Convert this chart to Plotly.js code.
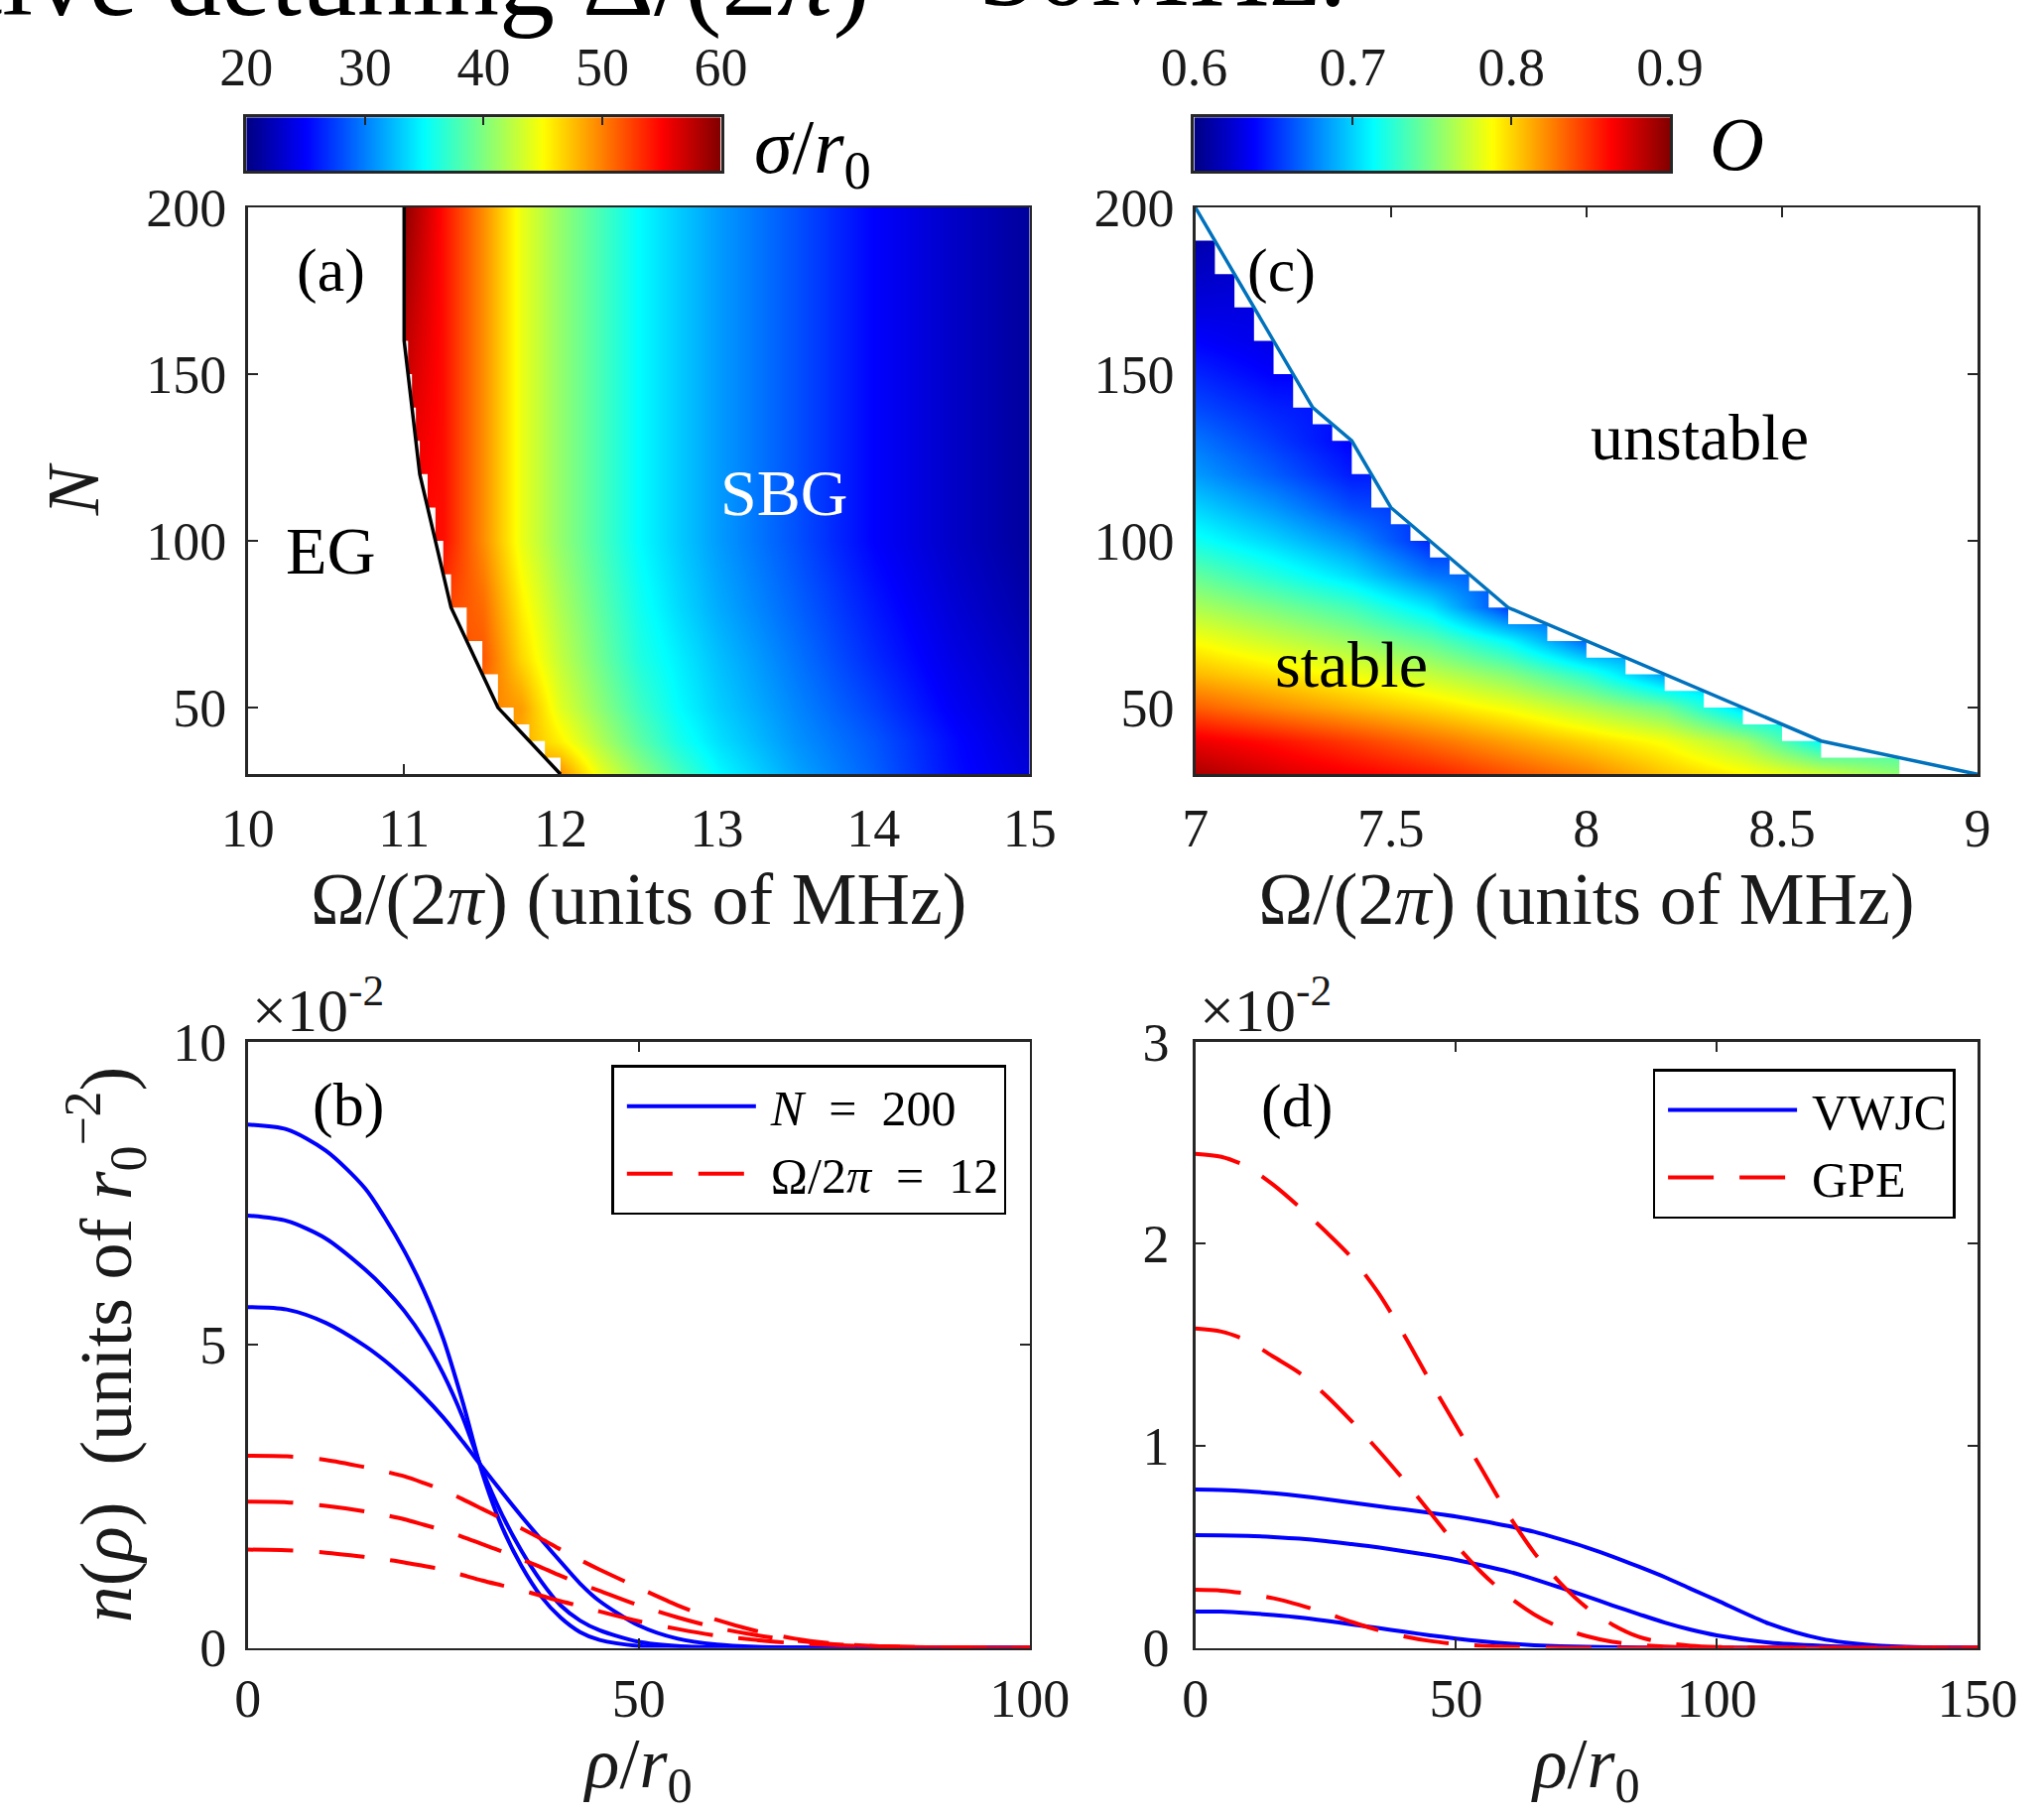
<!DOCTYPE html>
<html>
<head>
<meta charset="utf-8">
<script src="https://cdn.plot.ly/plotly-3.0.1.min.js"></script>
<style>html,body{margin:0;padding:0;background:#fff}#chart{width:2060px;height:1827px}</style>
</head>
<body>
<div id="chart"></div>
<script>
// ================= DATA =================
// (a) sigma/r0 over (Omega/2pi, N); null = EG region (no self-bound gas)
const aOmega = [11.0, 11.25, 11.5, 11.75, 12.0, 12.25, 12.5, 12.75, 13.0, 13.5, 14.0, 14.5, 15.0];
const aN = [30, 40, 50, 65, 80, 100, 130, 200];
const aSigma = [
  [null, null, null, null, 49.5, 44.2, 40.8, 37.8, 35.0, 31.5, 28.8, 25.6, 23.5],
  [null, null, null, null, 45.5, 41.9, 38.7, 35.9, 33.9, 30.8, 28.4, 25.4, 23.0],
  [null, null, null, 48.8, 43.8, 40.5, 37.5, 35.0, 33.2, 30.3, 27.6, 24.7, 22.6],
  [null, null, 51.6, 46.5, 42.6, 39.3, 36.3, 34.4, 32.6, 29.6, 26.6, 24.0, 22.1],
  [null, null, 50.8, 45.5, 41.8, 38.6, 35.7, 33.6, 31.8, 28.9, 25.9, 23.4, 21.5],
  [null, 54.5, 49.5, 44.2, 40.8, 37.8, 35.0, 33.0, 31.2, 28.2, 25.0, 22.8, 21.0],
  [null, 54.5, 49.5, 44.2, 40.8, 37.8, 35.0, 33.0, 31.2, 28.2, 25.0, 22.8, 21.0],
  [59.5, 54.5, 49.5, 44.2, 40.8, 37.8, 35.0, 33.0, 31.2, 28.2, 25.0, 22.8, 21.0]
];
// (a) computed grid edge: rows between aStepN[i] and aStepN[i+1] start at aStepOmega[i]
const aStepN = [200, 160, 150, 140, 130, 120, 110, 100, 90, 80, 70, 60, 50, 45, 40, 35, 30];
const aStepOmega = [11.0, 11.025, 11.05, 11.075, 11.1, 11.15, 11.2, 11.25, 11.3, 11.4, 11.5, 11.6, 11.7, 11.8, 11.9, 12.0];
// (a) EG / SBG boundary
const aLineOmega = [11.0, 11.0, 11.1, 11.3, 11.6, 12.0];
const aLineN = [200, 160, 120, 80, 50, 30];

// (c) overlap O over (Omega/2pi, N); null = unstable
const cOmega = [7.0, 7.2, 7.4, 7.6, 7.8, 8.0, 8.2, 8.4, 8.6, 8.8];
const cN = [30, 40, 50, 60, 70, 80, 90, 100, 110, 120, 130, 140, 150, 160, 170, 180, 190];
const cOverlap = [
  [0.888, 0.875, 0.865, 0.855, 0.840, 0.825, 0.805, 0.790, 0.775, 0.755],
  [0.868, 0.858, 0.845, 0.830, 0.815, 0.800, 0.785, 0.760, 0.712, null],
  [0.835, 0.822, 0.810, 0.798, 0.784, 0.765, 0.745, 0.700, null, null],
  [0.808, 0.797, 0.784, 0.770, 0.752, 0.725, 0.685, null, null, null],
  [0.786, 0.772, 0.758, 0.740, 0.712, 0.668, null, null, null, null],
  [0.763, 0.748, 0.732, 0.705, 0.655, null, null, null, null, null],
  [0.741, 0.722, 0.702, 0.672, null, null, null, null, null, null],
  [0.717, 0.700, 0.680, 0.648, null, null, null, null, null, null],
  [0.700, 0.682, 0.660, null, null, null, null, null, null, null],
  [0.683, 0.665, 0.645, null, null, null, null, null, null, null],
  [0.672, 0.655, 0.637, null, null, null, null, null, null, null],
  [0.659, 0.647, null, null, null, null, null, null, null, null],
  [0.648, 0.637, null, null, null, null, null, null, null, null],
  [0.6375, 0.630, null, null, null, null, null, null, null, null],
  [0.628, null, null, null, null, null, null, null, null, null],
  [0.620, null, null, null, null, null, null, null, null, null],
  [0.613, null, null, null, null, null, null, null, null, null]
];
// (c) computed grid edge: rows between cStepN[i] and cStepN[i+1] end at cStepOmega[i]
const cStepN = [200, 190, 180, 170, 160, 150, 140, 135, 130, 120, 110, 105, 100, 95, 90, 85, 80, 75, 70, 65, 60, 55, 50, 45, 40, 35, 30];
const cStepOmega = [7.0, 7.05, 7.10, 7.15, 7.20, 7.25, 7.30, 7.35, 7.40, 7.45, 7.50, 7.55, 7.60, 7.65, 7.70, 7.75, 7.80, 7.90, 8.00, 8.10, 8.20, 8.30, 8.40, 8.50, 8.60, 8.80];
// (c) stability boundary
const cLineOmega = [7.0, 7.3, 7.4, 7.5, 7.8, 8.6, 9.0];
const cLineN = [200, 140, 130, 110, 80, 40, 30];

// colour-bar limits
const cbSigma = [20, 60];
const cbOverlap = [0.6, 0.9];

// (b) density profiles, units of 1e-2 r0^-2
const bRho = [0, 5, 10, 15, 17.5, 20, 22.5, 25, 27.5, 30, 32.5, 35, 37.5, 40, 42.5, 45, 50, 55, 60, 65, 70, 75, 80, 85, 90, 95, 100];
const bN200a = [8.63, 8.55, 8.20, 7.58, 7.10, 6.55, 5.90, 5.10, 4.05, 2.88, 2.00, 1.35, 0.85, 0.50, 0.26, 0.13, 0.03, 0.006, 0, 0, 0, 0, 0, 0, 0, 0, 0];
const bN200b = [7.13, 7.04, 6.75, 6.24, 5.93, 5.56, 5.10, 4.52, 3.80, 2.93, 2.20, 1.60, 1.10, 0.70, 0.45, 0.29, 0.10, 0.03, 0.008, 0.002, 0, 0, 0, 0, 0, 0, 0];
const bN200c = [5.62, 5.58, 5.36, 4.98, 4.74, 4.46, 4.15, 3.80, 3.40, 2.98, 2.57, 2.17, 1.79, 1.42, 1.06, 0.77, 0.37, 0.15, 0.055, 0.017, 0.005, 0.001, 0, 0, 0, 0, 0];
const bW12a = [3.17, 3.16, 3.10, 2.98, 2.91, 2.83, 2.72, 2.60, 2.45, 2.29, 2.13, 1.97, 1.80, 1.62, 1.45, 1.29, 0.99, 0.70, 0.46, 0.28, 0.15, 0.07, 0.03, 0.014, 0.006, 0.002, 0];
const bW12b = [2.41, 2.40, 2.34, 2.25, 2.19, 2.12, 2.03, 1.94, 1.83, 1.71, 1.59, 1.46, 1.33, 1.19, 1.06, 0.94, 0.70, 0.50, 0.33, 0.21, 0.12, 0.06, 0.03, 0.015, 0.007, 0.003, 0];
const bW12c = [1.62, 1.61, 1.57, 1.50, 1.46, 1.41, 1.35, 1.29, 1.20, 1.11, 1.03, 0.95, 0.86, 0.77, 0.69, 0.60, 0.44, 0.31, 0.20, 0.13, 0.075, 0.045, 0.025, 0.013, 0.007, 0.003, 0];

// (d) density profiles, units of 1e-2 r0^-2
const dRho = [0, 5, 10, 15, 20, 25, 30, 35, 40, 45, 50, 55, 60, 65, 70, 75, 80, 85, 90, 95, 100, 110, 120, 130, 140, 150];
const dVWJC1 = [0.783, 0.781, 0.775, 0.765, 0.752, 0.736, 0.718, 0.701, 0.685, 0.668, 0.650, 0.628, 0.603, 0.574, 0.537, 0.497, 0.452, 0.402, 0.350, 0.292, 0.235, 0.120, 0.045, 0.013, 0.003, 0];
const dVWJC2 = [0.558, 0.557, 0.554, 0.548, 0.540, 0.528, 0.513, 0.497, 0.478, 0.458, 0.435, 0.408, 0.378, 0.340, 0.298, 0.255, 0.210, 0.167, 0.125, 0.090, 0.062, 0.026, 0.010, 0.003, 0.001, 0];
const dVWJC3 = [0.180, 0.179, 0.172, 0.162, 0.150, 0.134, 0.116, 0.098, 0.080, 0.062, 0.046, 0.032, 0.021, 0.013, 0.008, 0.005, 0.003, 0.002, 0.001, 0, 0, 0, 0, 0, 0, 0];
const dGPE1 = [2.445, 2.43, 2.38, 2.29, 2.18, 2.06, 1.93, 1.76, 1.55, 1.32, 1.10, 0.88, 0.66, 0.47, 0.32, 0.20, 0.115, 0.055, 0.025, 0.010, 0.004, 0.001, 0, 0, 0, 0];
const dGPE2 = [1.58, 1.565, 1.52, 1.44, 1.36, 1.25, 1.12, 0.98, 0.83, 0.67, 0.51, 0.37, 0.255, 0.165, 0.10, 0.058, 0.03, 0.015, 0.007, 0.003, 0.002, 0, 0, 0, 0, 0];
const dGPE3 = [0.287, 0.283, 0.268, 0.245, 0.212, 0.172, 0.128, 0.088, 0.057, 0.034, 0.019, 0.010, 0.005, 0.002, 0.001, 0, 0, 0, 0, 0, 0, 0, 0, 0, 0, 0];

// tick labels
const aTicksX = [10, 11, 12, 13, 14, 15];
const aTicksY = [50, 100, 150, 200];
const cTicksX = [7, 7.5, 8, 8.5, 9];
const cTickText = ['7', '7.5', '8', '8.5', '9'];
const bTicksX = [0, 50, 100];
const bTicksY = [0, 5, 10];
const dTicksX = [0, 50, 100, 150];
const dTicksY = [0, 1, 2, 3];
const cbSigmaTicks = [20, 30, 40, 50, 60];
const cbOverlapTicks = [0.6, 0.7, 0.8, 0.9];

// ================= STYLE =================
const FONT = 'Liberation Serif, Times New Roman, serif';
const AXC = '#262626';
const jet = [[0, 'rgb(0,0,131)'], [0.125, 'rgb(0,0,255)'], [0.375, 'rgb(0,255,255)'],
             [0.625, 'rgb(255,255,0)'], [0.875, 'rgb(255,0,0)'], [1, 'rgb(128,0,0)']];
const BLUE = '#0000ff', RED = '#ff0000';
const DASH = '46px,26px';
const LW = 4;

// staircase polygons (mask of the non-computed region)
function leftMask(stepN, stepX, xMin) {
  const xs = [xMin], ys = [stepN[0]];
  for (let i = 0; i < stepX.length; i++) {
    xs.push(stepX[i], stepX[i]); ys.push(stepN[i], stepN[i + 1]);
  }
  xs.push(xMin); ys.push(stepN[stepN.length - 1]);
  return {xs, ys};
}
function rightMask(stepN, stepX, xMax) {
  const xs = [], ys = [];
  for (let i = 0; i < stepX.length; i++) {
    xs.push(stepX[i], stepX[i]); ys.push(stepN[i], stepN[i + 1]);
  }
  xs.push(xMax, xMax); ys.push(stepN[stepN.length - 1], stepN[0]);
  return {xs, ys};
}
const mA = leftMask(aStepN, aStepOmega, 10);
const mC = rightMask(cStepN, cStepOmega, 9);

const traces = [];
// ---- panel (a)
traces.push({type: 'heatmap', x: aOmega, y: aN, z: aSigma, colorscale: jet, zmin: cbSigma[0], zmax: cbSigma[1],
  zsmooth: 'best', connectgaps: true, showscale: false, xaxis: 'x', yaxis: 'y', hoverinfo: 'skip'});
traces.push({type: 'scatter', mode: 'lines', x: mA.xs, y: mA.ys, fill: 'toself', fillcolor: '#ffffff',
  line: {width: 0, color: 'rgba(0,0,0,0)'}, xaxis: 'x', yaxis: 'y', showlegend: false, hoverinfo: 'skip'});
traces.push({type: 'scatter', mode: 'lines', x: aLineOmega, y: aLineN, line: {color: '#000000', width: 3.5},
  xaxis: 'x', yaxis: 'y', showlegend: false, hoverinfo: 'skip'});
traces.push({type: 'scatter', mode: 'lines', x: [], y: [], xaxis: 'x8', yaxis: 'y', showlegend: false, hoverinfo: 'skip'});
// ---- panel (c)
traces.push({type: 'heatmap', x: cOmega, y: cN, z: cOverlap, colorscale: jet, zmin: cbOverlap[0], zmax: cbOverlap[1],
  zsmooth: 'best', connectgaps: true, showscale: false, xaxis: 'x3', yaxis: 'y3', hoverinfo: 'skip'});
traces.push({type: 'scatter', mode: 'lines', x: mC.xs, y: mC.ys, fill: 'toself', fillcolor: '#ffffff',
  line: {width: 0, color: 'rgba(0,0,0,0)'}, xaxis: 'x3', yaxis: 'y3', showlegend: false, hoverinfo: 'skip'});
traces.push({type: 'scatter', mode: 'lines', x: cLineOmega, y: cLineN, line: {color: '#0072bd', width: 3.5},
  xaxis: 'x3', yaxis: 'y3', showlegend: false, hoverinfo: 'skip'});
traces.push({type: 'scatter', mode: 'lines', x: [], y: [], xaxis: 'x7', yaxis: 'y7', showlegend: false, hoverinfo: 'skip'});
// ---- colour bars
traces.push({type: 'heatmap', x: cbSigma, y: [0, 1], z: [cbSigma, cbSigma], colorscale: jet, zmin: cbSigma[0], zmax: cbSigma[1],
  zsmooth: 'best', showscale: false, xaxis: 'x5', yaxis: 'y5', hoverinfo: 'skip'});
traces.push({type: 'heatmap', x: cbOverlap, y: [0, 1], z: [cbOverlap, cbOverlap], colorscale: jet, zmin: cbOverlap[0], zmax: cbOverlap[1],
  zsmooth: 'best', showscale: false, xaxis: 'x6', yaxis: 'y6', hoverinfo: 'skip'});
// ---- panel (b)
[bN200a, bN200b, bN200c].forEach((v, i) => traces.push({type: 'scatter', mode: 'lines', x: bRho, y: v,
  line: {color: BLUE, width: LW, shape: 'spline', smoothing: 0.8}, name: '\u2009<i>N</i>\u2002=\u2002200', showlegend: i === 0,
  legend: 'legend', xaxis: 'x2', yaxis: 'y2', hoverinfo: 'skip'}));
[bW12a, bW12b, bW12c].forEach((v, i) => traces.push({type: 'scatter', mode: 'lines', x: bRho, y: v,
  line: {color: RED, width: LW, dash: DASH, shape: 'spline', smoothing: 0.8}, name: '\u2009Ω/2<i>π</i>\u2002=\u200212', showlegend: i === 0,
  legend: 'legend', xaxis: 'x2', yaxis: 'y2', hoverinfo: 'skip'}));
// ---- panel (d)
[dVWJC1, dVWJC2, dVWJC3].forEach((v, i) => traces.push({type: 'scatter', mode: 'lines', x: dRho, y: v,
  line: {color: BLUE, width: LW, shape: 'spline', smoothing: 0.8}, name: '\u2009VWJC', showlegend: i === 0,
  legend: 'legend2', xaxis: 'x4', yaxis: 'y4', hoverinfo: 'skip'}));
[dGPE1, dGPE2, dGPE3].forEach((v, i) => traces.push({type: 'scatter', mode: 'lines', x: dRho, y: v,
  line: {color: RED, width: LW, dash: DASH, shape: 'spline', smoothing: 0.8}, name: '\u2009GPE', showlegend: i === 0,
  legend: 'legend2', xaxis: 'x4', yaxis: 'y4', hoverinfo: 'skip'}));

// ================= LAYOUT =================
function ax(extra) {
  return Object.assign({
    showgrid: false, zeroline: false, showline: true, linecolor: AXC, linewidth: 2.5,
    ticks: 'inside', ticklen: 10, tickwidth: 2, tickcolor: AXC,
    tickfont: {family: FONT, size: 54, color: '#1a1a1a'}, automargin: false, fixedrange: true
  }, extra);
}
const titleFont = {family: FONT, size: 74, color: '#1a1a1a'};
const rhoFont = {family: FONT, size: 72, color: '#1a1a1a'};
const XA = [0.1212, 0.5038], XC = [0.5848, 0.9675];
const YTOP = [0.5729, 0.8856], YBOT = [0.0911, 0.4255];
const legendStyle = {xanchor: 'right', yanchor: 'top', bgcolor: '#ffffff', bordercolor: '#000',
  borderwidth: 2.5, font: {family: FONT, size: 50, color: '#000'}, itemwidth: 130, tracegroupgap: 0, indentation: 8};

const layout = {
  width: 2060, height: 1827, margin: {l: 0, r: 0, t: 0, b: 0},
  paper_bgcolor: '#ffffff', plot_bgcolor: 'rgba(0,0,0,0)',
  font: {family: FONT, color: '#000'}, showlegend: true, hovermode: false,
  xaxis: ax({domain: XA, anchor: 'y', range: [10, 15], tickvals: aTicksX, ticks: '', mirror: true, ticklabelstandoff: 5,
    title: {text: 'Ω/(2<i>π</i>) (units of MHz)', font: titleFont, standoff: 14}}),
  xaxis8: ax({overlaying: 'x', anchor: 'y', side: 'bottom', range: [10, 15], tickvals: [11], showticklabels: false, showline: false}),
  yaxis: ax({domain: YTOP, anchor: 'x', range: [30, 200], tickvals: aTicksY, mirror: true, ticklabelstandoff: 8,
    title: {text: '<i>N</i>', font: titleFont, standoff: 24}}),
  xaxis2: ax({domain: XA, anchor: 'y2', range: [0, 100], tickvals: bTicksX, mirror: 'ticks', ticklabelstandoff: 2,
    title: {text: '<i>ρ</i>/<i>r</i><sub>0</sub>', font: rhoFont, standoff: 60}}),
  yaxis2: ax({domain: YBOT, anchor: 'x2', range: [0, 10], tickvals: bTicksY, mirror: 'ticks', ticklabelstandoff: 8,
    title: {text: '<i>n</i>(<i>ρ</i>)\u00a0\u00a0(units of <i>r</i><sub>0</sub><sup>−2</sup>)', font: titleFont, standoff: 18}}),
  xaxis3: ax({domain: XC, anchor: 'y3', range: [7, 9], tickvals: cTicksX, ticktext: cTickText, ticks: '', mirror: true, ticklabelstandoff: 5,
    title: {text: 'Ω/(2<i>π</i>) (units of MHz)', font: titleFont, standoff: 14}}),
  yaxis3: ax({domain: YTOP, anchor: 'x3', range: [30, 200], tickvals: aTicksY, ticks: '', mirror: true, ticklabelstandoff: 8}),
  xaxis7: ax({overlaying: 'x3', side: 'top', anchor: 'y7', range: [7, 9], tickvals: cTicksX, showticklabels: false, showline: false}),
  yaxis7: ax({overlaying: 'y3', side: 'right', anchor: 'x7', range: [30, 200], tickvals: aTicksY, showticklabels: false, showline: false}),
  xaxis4: ax({domain: XC, anchor: 'y4', range: [0, 150], tickvals: dTicksX, mirror: 'ticks', ticklabelstandoff: 2,
    title: {text: '<i>ρ</i>/<i>r</i><sub>0</sub>', font: rhoFont, standoff: 60}}),
  yaxis4: ax({domain: YBOT, anchor: 'x4', range: [0, 3], tickvals: dTicksY, mirror: 'ticks', ticklabelstandoff: 13}),
  xaxis5: ax({domain: [0.1205, 0.3527], anchor: 'y5', side: 'top', range: cbSigma, tickvals: cbSigmaTicks,
    mirror: true, linewidth: 3, ticklen: 8, ticklabelstandoff: 8}),
  yaxis5: ax({domain: [0.9058, 0.9353], anchor: 'x5', range: [0, 1], showticklabels: false, ticks: '', mirror: true, linewidth: 3}),
  xaxis6: ax({domain: [0.5842, 0.8170], anchor: 'y6', side: 'top', range: cbOverlap, tickvals: cbOverlapTicks,
    mirror: true, linewidth: 3, ticklen: 8, ticklabelstandoff: 8}),
  yaxis6: ax({domain: [0.9058, 0.9353], anchor: 'x6', range: [0, 1], showticklabels: false, ticks: '', mirror: true, linewidth: 3}),
  legend: Object.assign({x: 0.4924, y: 0.4125}, legendStyle),
  legend2: Object.assign({x: 0.9566, y: 0.4105}, legendStyle),
  annotations: [
    {xref: 'x', yref: 'y', x: 10.53, y: 181, text: '(a)', showarrow: false, font: {family: FONT, size: 62, color: '#000'}},
    {xref: 'x', yref: 'y', x: 10.53, y: 97, text: 'EG', showarrow: false, font: {family: FONT, size: 68, color: '#000'}},
    {xref: 'x', yref: 'y', x: 13.43, y: 114.5, text: 'SBG', showarrow: false, font: {family: FONT, size: 66, color: '#fff'}},
    {xref: 'x3', yref: 'y3', x: 7.22, y: 181, text: '(c)', showarrow: false, font: {family: FONT, size: 62, color: '#000'}},
    {xref: 'x3', yref: 'y3', x: 8.29, y: 131, text: 'unstable', showarrow: false, font: {family: FONT, size: 66, color: '#000'}},
    {xref: 'x3', yref: 'y3', x: 7.40, y: 63, text: 'stable', showarrow: false, font: {family: FONT, size: 66, color: '#000'}},
    {xref: 'x2', yref: 'y2', x: 12.8, y: 8.95, text: '(b)', showarrow: false, font: {family: FONT, size: 62, color: '#000'}},
    {xref: 'x4', yref: 'y4', x: 19.5, y: 2.68, text: '(d)', showarrow: false, font: {family: FONT, size: 62, color: '#000'}},
    {xref: 'paper', yref: 'paper', x: 0.1225, y: 0.4233, xanchor: 'left', yanchor: 'bottom', text: '×10<sup>-2</sup>',
      showarrow: false, font: {family: FONT, size: 62, color: '#1a1a1a'}},
    {xref: 'paper', yref: 'paper', x: 0.5861, y: 0.4233, xanchor: 'left', yanchor: 'bottom', text: '×10<sup>-2</sup>',
      showarrow: false, font: {family: FONT, size: 62, color: '#1a1a1a'}},
    {xref: 'paper', yref: 'paper', x: 0.368, y: 0.9165, xanchor: 'left', yanchor: 'middle', text: '<i>σ</i>/<i>r</i><sub>0</sub>',
      showarrow: false, font: {family: FONT, size: 78, color: '#000'}},
    {xref: 'paper', yref: 'paper', x: 0.8354, y: 0.9206, xanchor: 'left', yanchor: 'middle', text: '<i>O</i>',
      showarrow: false, font: {family: FONT, size: 76, color: '#000'}},
    // caption of the page, cut by the top edge
    {xref: 'paper', yref: 'paper', x: -0.015, y: 1.0126, xanchor: 'left', yanchor: 'middle',
      text: 'tive detuning Δ/(2<i>π</i>)', showarrow: false, font: {family: FONT, size: 112, color: '#000'}},
    {xref: 'paper', yref: 'paper', x: 0.6597, y: 1.0183, xanchor: 'right', yanchor: 'middle',
      text: '= 30MHz.', showarrow: false, font: {family: FONT, size: 112, color: '#000'}}
  ]
};

Plotly.newPlot('chart', traces, layout, {staticPlot: true, displayModeBar: false});
</script>
</body>
</html>
